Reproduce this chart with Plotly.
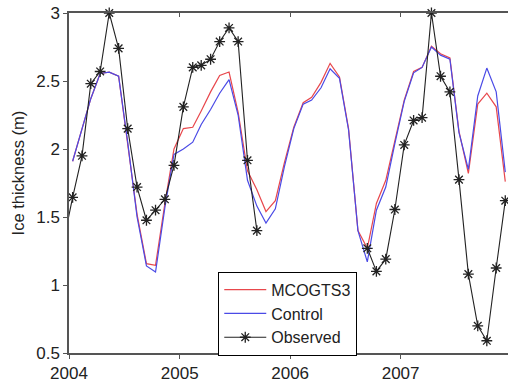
import pandas as pd
import plotly.graph_objects as go

# monthly time stamps, Dec 2003 .. Dec 2007
months = list(pd.date_range("2003-12-01", periods=49, freq="MS") + pd.Timedelta(days=12))

mcogts3 = [None,
           1.91, 2.14, 2.37, 2.555, 2.565, 2.535, 2.05, 1.52, 1.157, 1.145, 1.60, 2.00,
           2.15, 2.16, 2.28, 2.42, 2.54, 2.566, 2.27, 1.84, 1.70, 1.54, 1.62, 1.90,
           2.16, 2.34, 2.38, 2.49, 2.63, 2.53, 2.15, 1.40, 1.27, 1.60, 1.77, 2.05,
           2.36, 2.57, 2.60, 2.755, 2.70, 2.67, 2.13, 1.82, 2.33, 2.41, 2.31, 1.76]
control = [None,
           1.91, 2.14, 2.37, 2.555, 2.565, 2.535, 2.05, 1.50, 1.14, 1.095, 1.57, 1.96,
           2.00, 2.05, 2.18, 2.29, 2.41, 2.51, 2.25, 1.77, 1.58, 1.455, 1.56, 1.87,
           2.15, 2.33, 2.36, 2.45, 2.59, 2.52, 2.14, 1.40, 1.17, 1.55, 1.72, 2.04,
           2.35, 2.56, 2.60, 2.75, 2.69, 2.66, 2.12, 1.85, 2.39, 2.595, 2.42, 1.83]
observed = [1.31,
            1.645, 1.95, 2.48, 2.57, 3.0, 2.74, 2.15, 1.72, 1.476, 1.55, 1.63, 1.88,
            2.31, 2.60, 2.615, 2.66, 2.79, 2.89, 2.79, 1.917, 1.40,
            None, None, None, None, None, None, None, None, None, None, None,
            1.27, 1.10, 1.19, 1.555, 2.03, 2.21, 2.23, 3.0, 2.535, 2.42, 1.775,
            1.08, 0.70, 0.59, 1.125, 1.62]

year_ticks = ["2004-01-01", "2005-01-01", "2006-01-01", "2007-01-01"]
year_labels = ["2004", "2005", "2006", "2007"]
y_ticks = [0.5, 1, 1.5, 2, 2.5, 3]
y_labels = ["0.5", "1", "1.5", "2", "2.5", "3"]

x_range = ["2004-01-01", "2007-12-22"]
FONT = "Arial, Liberation Sans, sans-serif"
AX = "#555555"

fig = go.Figure()
fig.add_trace(go.Scatter(x=months, y=mcogts3, mode="lines", name="MCOGTS3",
                         line=dict(color="#e8474c", width=1.2)))
fig.add_trace(go.Scatter(x=months, y=control, mode="lines", name="Control",
                         line=dict(color="#4a4ae6", width=1.2)))
fig.add_trace(go.Scatter(x=months, y=observed, mode="lines+markers", name="Observed",
                         line=dict(color="#222222", width=1.1),
                         marker=dict(symbol="asterisk-open", size=9,
                                     line=dict(color="black", width=1.3)),
                         cliponaxis=False, connectgaps=False))
# invisible trace to carry the top axis (inside ticks)
fig.add_trace(go.Scatter(x=x_range, y=[None, None], xaxis="x2", showlegend=False,
                         hoverinfo="skip", mode="lines"))

fig.update_layout(
    width=508, height=382,
    margin=dict(l=69, r=0, t=13, b=29),
    paper_bgcolor="white", plot_bgcolor="white",
    font=dict(family=FONT, size=17, color="#222222"),
    showlegend=True,
    legend=dict(x=0.34, y=0.239, xanchor="left", yanchor="top",
                bordercolor="black", borderwidth=1, bgcolor="white",
                font=dict(size=16), tracegroupgap=0, itemwidth=42),
    xaxis=dict(type="date", range=x_range, tickvals=year_ticks, ticktext=year_labels,
               showgrid=False, zeroline=False, showline=True, linecolor=AX, linewidth=1.5,
               ticks="outside", ticklen=4, tickcolor=AX, tickfont=dict(size=17)),
    xaxis2=dict(type="date", range=x_range, tickvals=year_ticks, overlaying="x",
                side="top", showgrid=False, zeroline=False, showline=True, linecolor=AX,
                linewidth=1.5, ticks="inside", ticklen=4, tickcolor=AX,
                showticklabels=False),
    yaxis=dict(range=[0.5, 3], tickvals=y_ticks, ticktext=y_labels,
               showgrid=False, zeroline=False, showline=True, linecolor=AX, linewidth=1.5,
               ticks="outside", ticklen=4, tickcolor=AX, tickfont=dict(size=17)),
    annotations=[dict(text="Ice thickness (m)", textangle=-90, x=-0.117, y=0.53,
                      xref="paper", yref="paper", xanchor="center", yanchor="middle",
                      showarrow=False, font=dict(size=16.5, color="#222222"))],
)

fig.write_html("out.html")
